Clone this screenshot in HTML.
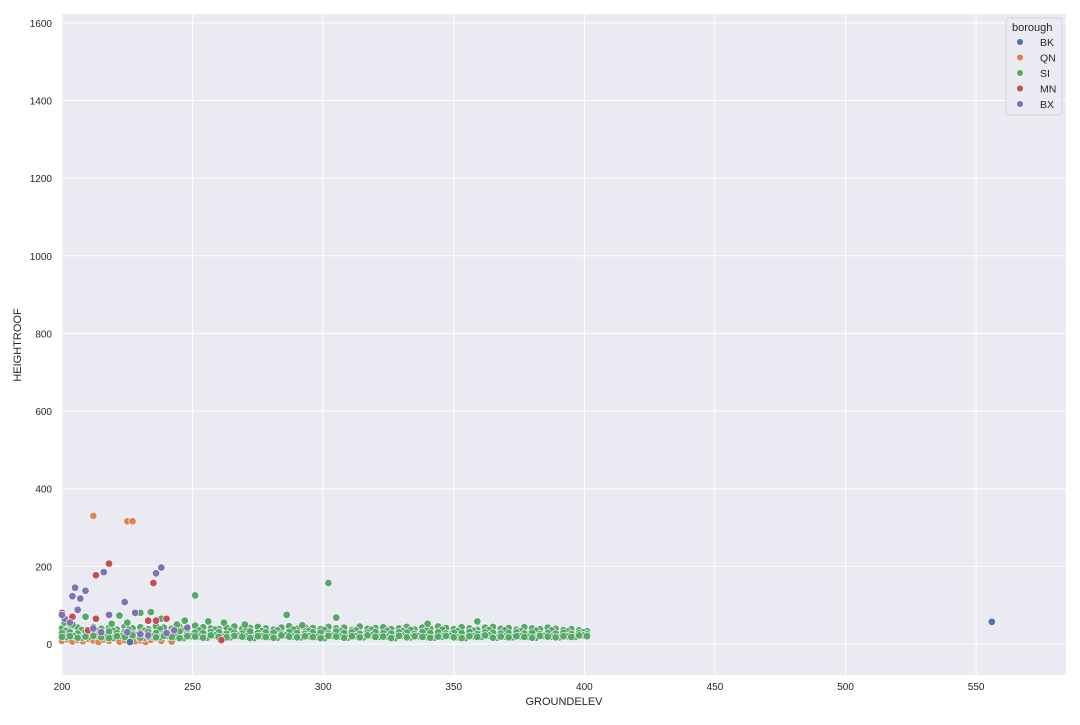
<!DOCTYPE html>
<html><head><meta charset="utf-8"><style>
body{margin:0;background:#fff;font-family:"Liberation Sans",sans-serif;}
svg text{font-family:"Liberation Sans",sans-serif;fill:#262626;}
</style></head><body>
<svg id="chart" width="1080" height="720" xmlns="http://www.w3.org/2000/svg">
<rect x="62" y="14" width="1004" height="661" fill="#eaeaf2"/>
<g id="grid"></g><g id="ticks"></g><g id="marks"></g>
<text x="564" y="705" text-anchor="middle" font-size="11">GROUNDELEV</text>
<text x="21" y="345" text-anchor="middle" font-size="11" transform="rotate(-90 21 345)">HEIGHTROOF</text>
<g>
<rect x="1006" y="18" width="56" height="97" rx="3" fill="#eaeaf2" stroke="#cccccc" stroke-width="0.8" fill-opacity="0.8"/>
<text x="1012" y="31" font-size="11">borough</text>
<g id="legend"></g>
</g>
</svg>
<script>
const xTicks=[200,250,300,350,400,450,500,550];
const yTicks=[0,200,400,600,800,1000,1200,1400,1600];
const boroughs=["BK","QN","SI","MN","BX"];
const colors={BK:"#4c72b0",QN:"#dd8452",SI:"#55a868",MN:"#c44e52",BX:"#8172b3"};
const siX=[200,203,206,209,212,215,218,221,224,227,230,233,236,239,242,245,248,251,254,257,260,263,266,269,272,275,278,281,284,287,290,293,296,299,302,305,308,311,314,317,320,323,326,329,332,335,338,341,344,347,350,353,356,359,362,365,368,371,374,377,380,383,386,389,392,395,398,401];
const siX2=[201.5,204.5,207.5,210.5,213.5,216.5,219.5,222.5,225.5,228.5,231.5,234.5,237.5,240.5,243.5,246.5,249.5,252.5,255.5,258.5,261.5,264.5,267.5,270.5,273.5,276.5,279.5,282.5,285.5,288.5,291.5,294.5,297.5,300.5,303.5,306.5,309.5,312.5,315.5,318.5,321.5,324.5,327.5,330.5,333.5,336.5,339.5,342.5,345.5,348.5,351.5,354.5,357.5,360.5,363.5,366.5,369.5,372.5,375.5,378.5,381.5,384.5,387.5,390.5,393.5,396.5,399.5];
const siYa=[40,38,42,36,44,39,41,37,45,40,43,38,46,42,39,44,41,47,43,40,38,42,45,39,41,44,40,37,42,46,39,43,41,38,44,40,42,36,45,39,41,43,38,40,44,37,42,39,45,41,38,43,40,36,42,44,39,41,37,43,40,38,42,39,36,38,35,33];
const siYb=[28,30,27,31,29,26,32,28,30,27,29,31,28,26,30,32,27,29,28,31,30,26,29,27,32,28,30,29,27,31,28,26,30,29,27,32,28,30,26,29,31,28,27,30,29,26,31,28,30,27,29,28,31,26,30,29,27,28,30,27,29,26,28,27,29,26,28,25];
const siYc=[18,20,16,19,21,17,15,20,18,22,16,19,17,21,18,15,20,19,16,22,18,17,21,19,15,20,18,16,22,19,17,20,18,15,21,19,16,20,17,22,18,19,15,21,17,20,18,16,19,21,17,15,20,18,22,16,19,17,20,18,16,21,19,17,20,18,22,20];
const siYd=[34,23,36,25,33,24,35,22,37,26,34,23,38,25,33,36,24,35,22,37,25,34,23,36,24,33,26,35,22,37,24,34,25,36,23,33,26,35,24,37,22,34,25,33,36,23,35,24,37,26,33,22,34,25,36,23,35,24,33,26,34,22,35,24,32,23,30];
const siOutX=[251,302,286,305,230,222,234,238,209,219,247,256,262,270,292,340,359,225,244,201,204];
const siOutY=[125,157,75,68,80,73,82,65,70,52,60,58,55,50,48,52,58,55,50,55,50];
const qnX=[212,225,227,203,236,200,202,204,206,208,210,212,214,216,218,220,222,224,226,228,230,232,234,238,242,215,221];
const qnY=[330,316,316,30,20,8,12,6,10,7,13,9,5,11,8,14,6,10,12,7,9,5,11,8,6,25,22];
const bkX=[556,226];
const bkY=[57,5];
const mnX=[218,213,235,261,200,213,236,240,233,210,204];
const mnY=[207,177,157,10,80,65,60,65,60,35,70];
const bxX=[238,236,216,205,209,204,207,224,228,206,201,200,218,225,215,230,240,203,212,243,233,248];
const bxY=[197,182,185,145,137,123,117,108,80,88,65,75,75,30,30,25,28,55,40,35,22,42];

const X0=200,X1=584.4,Y0=-80,Y1=1623,L=62,R=1066,T=14,B=675;
const sx=v=>L+(v-X0)/(X1-X0)*(R-L);
const sy=v=>B-(v-Y0)/(Y1-Y0)*(B-T);
const NS="http://www.w3.org/2000/svg";
function mk(tag,attrs,parent){const e=document.createElementNS(NS,tag);for(const k in attrs)e.setAttribute(k,attrs[k]);parent.appendChild(e);return e;}
const grid=document.getElementById("grid"),ticks=document.getElementById("ticks"),marks=document.getElementById("marks");
xTicks.forEach(t=>{
  const l=mk("line",{x1:sx(t),x2:sx(t),y1:T,y2:B,stroke:"#fff","stroke-width":1},grid);
  
  
  const tx=mk("text",{x:sx(t),y:B+15,"text-anchor":"middle","font-size":10},ticks);
  tx.textContent=t;
  
  
});
yTicks.forEach(t=>{
  const l=mk("line",{x1:L,x2:R,y1:sy(t),y2:sy(t),stroke:"#fff","stroke-width":1},grid);
  
  
  const tx=mk("text",{x:L-10,y:sy(t)+4,"text-anchor":"end","font-size":10},ticks);
  tx.textContent=t;
  
  
});
function draw(xs,ys,b){
  xs.forEach((x,i)=>{
    const c=mk("circle",{cx:sx(x),cy:sy(ys[i]),r:3.7,fill:colors[b],stroke:"#fff","stroke-width":0.6},marks);
    
    
  });
}
draw(qnX.slice(3),qnY.slice(3),"QN");
draw(siX,siYa,"SI");draw(siX2,siYd,"SI");draw(siX,siYb,"SI");draw(siX2,siYc,"SI");draw(siX,siYc,"SI");
draw(siOutX,siOutY,"SI");
draw(bkX,bkY,"BK");
draw(mnX,mnY,"MN");
draw(bxX,bxY,"BX");
draw(qnX.slice(0,3),qnY.slice(0,3),"QN");
const lg=document.getElementById("legend");
boroughs.forEach((b,i)=>{
  const y=42+i*15.5;
  const c=mk("circle",{cx:1020,cy:y,r:3.4,fill:colors[b],stroke:"#fff","stroke-width":0.6},lg);
  
  
  const t=mk("text",{x:1040,y:y+4,"font-size":10.5},lg);
  t.textContent=b;
  
  
});
</script>
</body></html>
